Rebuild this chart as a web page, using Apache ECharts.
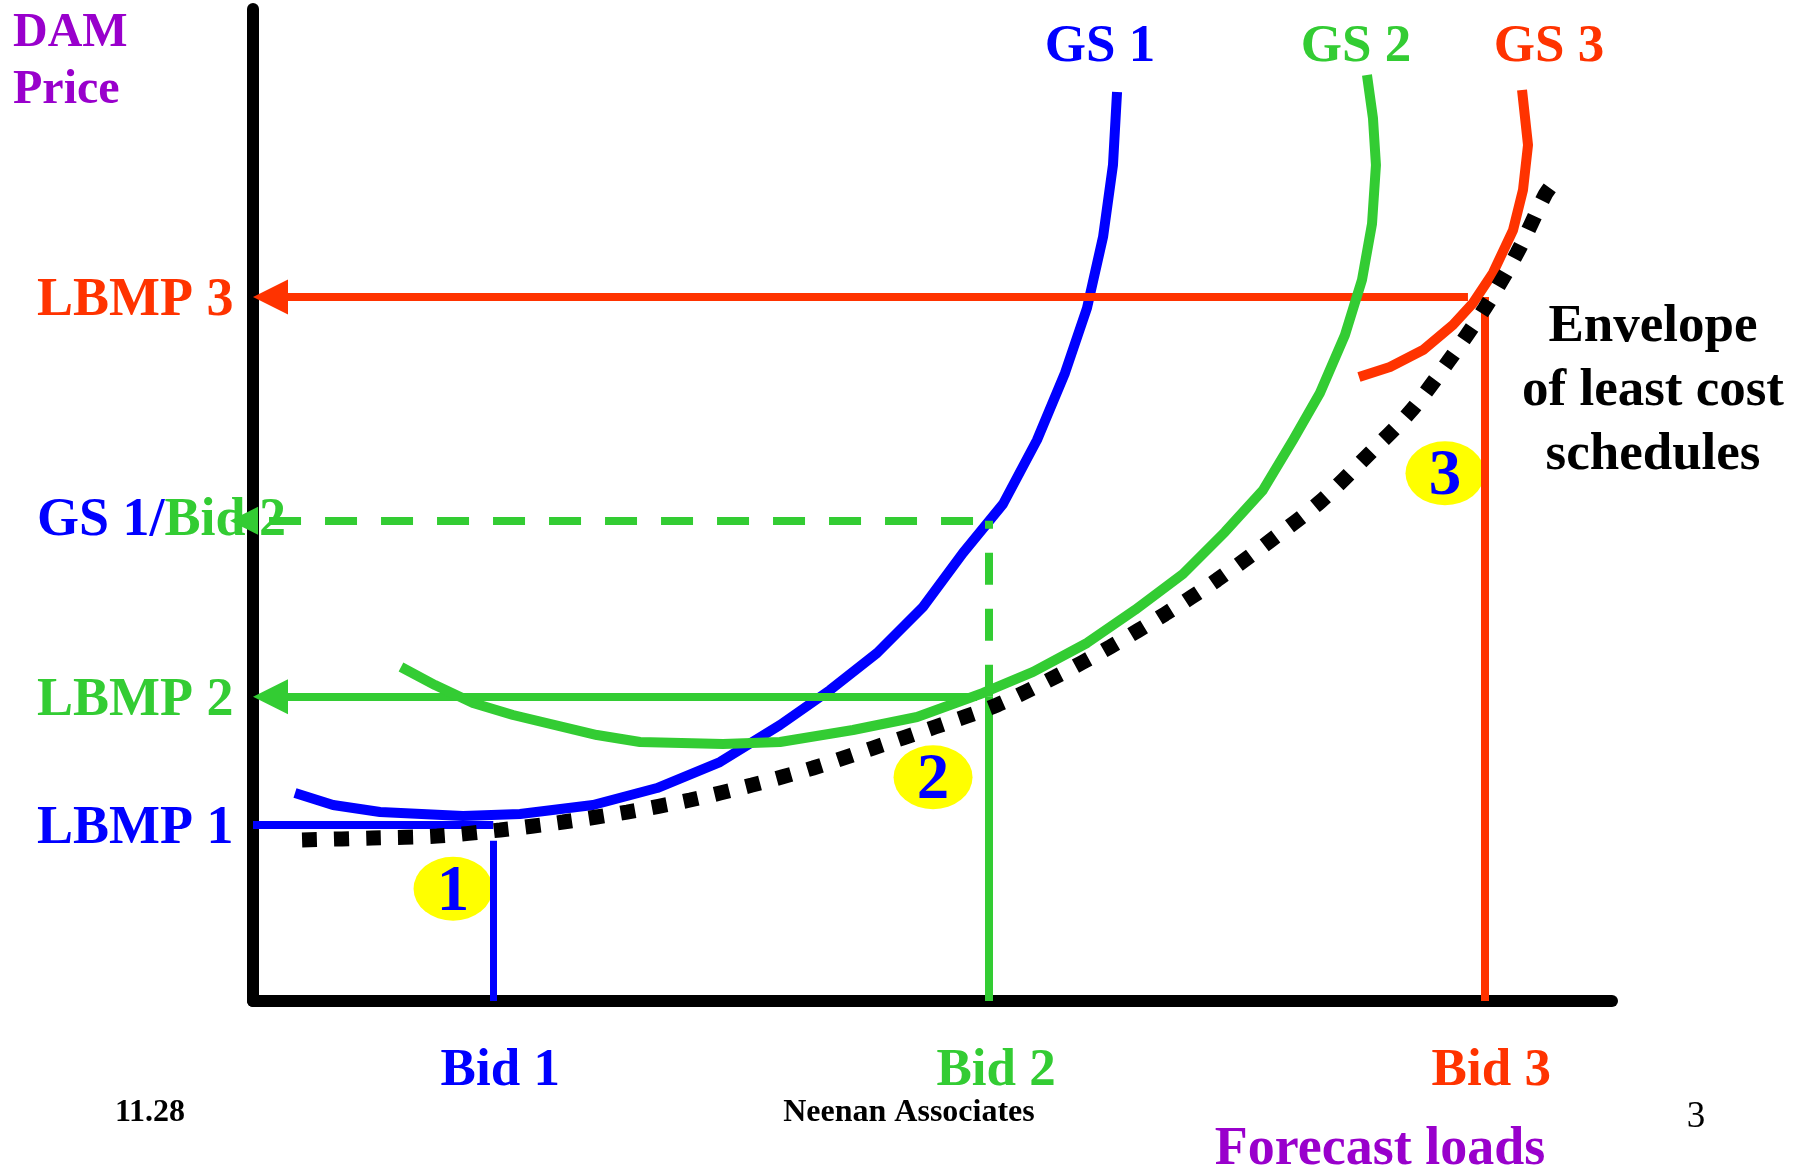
<!DOCTYPE html>
<html>
<head>
<meta charset="utf-8">
<title>DAM price and forecast loads</title>
<script src="https://cdn.jsdelivr.net/npm/echarts@6/dist/echarts.min.js"></script>
<style>
  html, body { margin: 0; padding: 0; background: #ffffff; }
  #chart { width: 1807px; height: 1170px; }
</style>
</head>
<body>
<div id="chart"></div>
<script>
// Generation schedules: [forecast load, DAM price] on a 0..100 scale
const gs1Schedule = [[3.09,20.97],[5.89,19.76],[9.35,19.05],[15.45,18.65],[19.65,18.85],[25.02,19.76],[29.73,21.47],[34.36,24.09],[38.78,27.82],[42.46,31.35],[45.92,35.08],[49.30,39.72],[52.24,45.16],[55.19,50.10],[57.69,56.55],[59.75,63.31],[61.37,69.86],[62.55,77.02],[63.28,84.27],[63.58,91.63]];
const gs2Schedule = [[10.89,33.67],[13.39,31.85],[16.19,30.04],[19.13,28.83],[25.31,26.81],[28.48,26.11],[34.58,25.91],[38.78,26.11],[44.15,27.32],[48.86,28.63],[53.72,31.05],[57.40,33.17],[61.37,36.09],[64.90,39.42],[68.43,43.04],[71.52,47.28],[74.32,51.51],[76.53,56.55],[78.51,61.29],[80.35,67.14],[81.60,72.68],[82.34,78.33],[82.63,84.27],[82.41,89.01],[81.97,93.35]];
const gs3Schedule = [[81.38,62.90],[83.66,63.91],[86.09,65.62],[88.30,68.15],[89.77,70.36],[91.24,73.39],[92.72,77.72],[93.45,81.75],[93.82,86.29],[93.38,91.83]];
// Envelope of least cost schedules
const envelope = [[3.61,16.23],[8.76,16.43],[13.54,16.63],[18.18,17.24],[22.81,18.04],[27.52,19.05],[32.16,20.26],[36.72,21.77],[41.21,23.49],[45.62,25.50],[50.18,27.62],[54.75,29.84],[59.01,32.66],[63.06,35.69],[67.11,39.01],[70.93,42.44],[74.83,46.37],[78.51,50.30],[81.83,54.74],[85.14,59.38],[87.93,64.42],[90.65,69.86],[93.01,75.40],[95.07,81.25],[95.58,82.26]];

// Bids on the load axis
const bidLoads = [17.68, 54.16, 90.6];
const bidLabels = ['Bid 1', 'Bid 2', 'Bid 3'];
// Price levels on the price axis: LBMP 1, LBMP 2, GS 1/Bid 2, LBMP 3
const priceLevels = [17.74, 30.67, 48.42, 70.97];
const priceLabels = ['LBMP 1', 'LBMP 2', 'GS 1/Bid 2', 'LBMP 3'];
// Load where each price line leaves its schedule (LBMP 1, LBMP 2, GS 1/Bid 2, LBMP 3)
const priceLineStarts = [17.68, 53.27, 54.16, 89.40];
// Where each price arrow points on the load axis
const priceArrowTips = [0, 0, -1.69, 0];
// Top of the Bid 1 drop line
const bid1Top = 16.16;

// Numbered clearing points
const clearingPoints = [[14.72, 11.32], [50.04, 22.56], [87.71, 53.20]];
const clearingLabels = ['1', '2', '3'];

const BLUE = '#0000ff', GREEN = '#33cc33', RED = '#ff3300', PURPLE = '#9900cc', YELLOW = '#ffff00';
const FONT = '"Liberation Serif", "Times New Roman", Times, serif';

const GRID = { left: 253, right: 195, top: 9, bottom: 169 };
const X_MIN = 0, X_MAX = 100, Y_MIN = 0, Y_MAX = 100;
const pxPerX = (1807 - GRID.left - GRID.right) / (X_MAX - X_MIN);

// Arrowheads are centred on the line end, so pull the end back by half an arrow
const ARROW = [34, 35];
const ARROW_SMALL = [33, 28];
function arrowEnd(tip, size) { return tip + (size[1] / 2) / pxPerX; }

const levelColors = [BLUE, GREEN, GREEN, RED];
const bidColors = [BLUE, GREEN, RED];

function guide(color, width, extra) {
  return Object.assign({ color: color, width: width, opacity: 1, cap: 'butt' }, extra || {});
}

const guideLines = [
  // LBMP 1 (no arrow)
  { coords: [[0, priceLevels[0]], [priceLineStarts[0], priceLevels[0]]], lineStyle: guide(BLUE, 8) },
  // Bid 1 drop line
  { coords: [[bidLoads[0], 0], [bidLoads[0], bid1Top]], lineStyle: guide(BLUE, 7) },
  // Bid 2 drop line
  { coords: [[bidLoads[1], 0], [bidLoads[1], priceLevels[1]]], lineStyle: guide(GREEN, 8) },
  // Bid 2 dashed extension up to GS 1
  { coords: [[bidLoads[1], priceLevels[1]], [bidLoads[1], priceLevels[2]]], lineStyle: guide(GREEN, 8, { type: [32, 24] }) },
  // Bid 3 drop line
  { coords: [[bidLoads[2], 0], [bidLoads[2], priceLevels[3]]], lineStyle: guide(RED, 8) },
  // LBMP 2 arrow
  { coords: [[priceLineStarts[1], priceLevels[1]], [arrowEnd(priceArrowTips[1], ARROW), priceLevels[1]]],
    symbol: ['none', 'triangle'], symbolSize: ARROW, lineStyle: guide(GREEN, 8) },
  // GS 1/Bid 2 dashed arrow
  { coords: [[priceLineStarts[2], priceLevels[2]], [arrowEnd(priceArrowTips[2], ARROW_SMALL), priceLevels[2]]],
    symbol: ['none', 'triangle'], symbolSize: ARROW_SMALL, lineStyle: guide(GREEN, 8, { type: [32, 24], dashOffset: 40 }) },
  // LBMP 3 arrow
  { coords: [[priceLineStarts[3], priceLevels[3]], [arrowEnd(priceArrowTips[3], ARROW), priceLevels[3]]],
    symbol: ['none', 'triangle'], symbolSize: ARROW, lineStyle: guide(RED, 8) }
];

function richFor(color, size, padding) {
  return { color: color, fontFamily: FONT, fontWeight: 'bold', fontSize: size, padding: padding };
}

const chart = echarts.init(document.getElementById('chart'), null, { renderer: 'canvas' });

chart.setOption({
  backgroundColor: '#ffffff',
  animation: false,
  grid: Object.assign({ outerBoundsMode: 'none', containLabel: false }, GRID),
  xAxis: {
    type: 'value', min: X_MIN, max: X_MAX,
    axisLine: { show: true, onZero: false, lineStyle: { color: '#000000', width: 12 } },
    axisTick: { show: false },
    splitLine: { show: false },
    axisLabel: {
      show: true,
      customValues: bidLoads,
      margin: 44,
      formatter: function (v) {
        const i = bidLoads.findIndex(function (b) { return Math.abs(b - v) < 1e-6; });
        return i < 0 ? '' : '{c' + i + '|' + bidLabels[i] + '}';
      },
      rich: {
        c0: richFor(bidColors[0], 53, [0, 0, 0, 14]),
        c1: richFor(bidColors[1], 53, [0, 0, 0, 14]),
        c2: richFor(bidColors[2], 53, [0, 0, 0, 14])
      }
    }
  },
  yAxis: {
    type: 'value', min: Y_MIN, max: Y_MAX,
    axisLine: { show: true, onZero: false, lineStyle: { color: '#000000', width: 12 } },
    axisTick: { show: false },
    splitLine: { show: false },
    axisLabel: {
      show: true,
      customValues: priceLevels,
      margin: 216,
      align: 'left',
      formatter: function (v) {
        const i = priceLevels.findIndex(function (p) { return Math.abs(p - v) < 1e-6; });
        if (i < 0) return '';
        if (priceLabels[i] === 'GS 1/Bid 2') return '{b|GS 1/}{g|Bid 2}';
        return '{l' + i + '|' + priceLabels[i] + '}';
      },
      rich: {
        l0: richFor(levelColors[0], 54, [8, 0, 0, 0]),
        l1: richFor(levelColors[1], 54, [8, 0, 0, 0]),
        l3: richFor(levelColors[3], 54, [8, 0, 0, 0]),
        b: richFor(BLUE, 54, [0, 0, 0, 0]),
        g: richFor(GREEN, 54, [0, 0, 0, 0])
      }
    }
  },
  series: [
    {
      name: 'Clearing points', type: 'scatter', z: 1,
      data: clearingPoints.map(function (p, i) { return { value: p, name: clearingLabels[i] }; }),
      symbol: 'path://M0,50 A50,50 0 1,1 100,50 A50,50 0 1,1 0,50 Z',
      symbolSize: [79, 64],
      itemStyle: { color: YELLOW, opacity: 1 },
      label: {
        show: true, position: 'inside', offset: [0, 4],
        formatter: function (p) { return p.name; },
        color: BLUE, fontFamily: FONT, fontWeight: 'bold', fontSize: 65
      },
      silent: true
    },
    {
      name: 'GS 1', type: 'line', z: 2, data: gs1Schedule,
      showSymbol: false, smooth: false,
      lineStyle: { color: BLUE, width: 10, join: 'round' }
    },
    {
      name: 'Guides', type: 'lines', coordinateSystem: 'cartesian2d', z: 3,
      clip: false, silent: true,
      symbol: ['none', 'none'],
      lineStyle: { opacity: 1 },
      data: guideLines
    },
    {
      name: 'GS 2', type: 'line', z: 4, data: gs2Schedule,
      showSymbol: false, smooth: false,
      lineStyle: { color: GREEN, width: 10, join: 'round' }
    },
    {
      name: 'GS 3', type: 'line', z: 5, data: gs3Schedule,
      showSymbol: false, smooth: false,
      lineStyle: { color: RED, width: 10, join: 'round' }
    },
    {
      name: 'Envelope of least cost schedules', type: 'line', z: 6, data: envelope,
      showSymbol: false, smooth: 0.3,
      lineStyle: { color: '#000000', width: 15, type: [15, 17], cap: 'butt' }
    }
  ],
  graphic: [
    { type: 'text', x: 13, y: 62, style: { text: 'DAM\nPrice', font: 'bold 48px ' + FONT, fill: PURPLE, lineHeight: 57, align: 'left', textAlign: 'left', verticalAlign: 'middle', textVerticalAlign: 'middle' } },
    { type: 'text', x: 1100, y: 47, style: { text: 'GS 1', font: 'bold 53px ' + FONT, fill: BLUE, align: 'center', textAlign: 'center', verticalAlign: 'middle', textVerticalAlign: 'middle' } },
    { type: 'text', x: 1356, y: 47, style: { text: 'GS 2', font: 'bold 53px ' + FONT, fill: GREEN, align: 'center', textAlign: 'center', verticalAlign: 'middle', textVerticalAlign: 'middle' } },
    { type: 'text', x: 1549, y: 47, style: { text: 'GS 3', font: 'bold 53px ' + FONT, fill: RED, align: 'center', textAlign: 'center', verticalAlign: 'middle', textVerticalAlign: 'middle' } },
    { type: 'text', x: 1653, y: 391, style: { text: 'Envelope\nof least cost\nschedules', font: 'bold 53px ' + FONT, fill: '#000000', lineHeight: 64, align: 'center', textAlign: 'center', verticalAlign: 'middle', textVerticalAlign: 'middle' } },
    { type: 'text', x: 150, y: 1113, style: { text: '11.28', font: 'bold 32px ' + FONT, fill: '#000000', align: 'center', textAlign: 'center', verticalAlign: 'middle', textVerticalAlign: 'middle' } },
    { type: 'text', x: 909, y: 1113, style: { text: 'Neenan Associates', font: 'bold 32px ' + FONT, fill: '#000000', align: 'center', textAlign: 'center', verticalAlign: 'middle', textVerticalAlign: 'middle' } },
    { type: 'text', x: 1696, y: 1117, style: { text: '3', font: '37px ' + FONT, fill: '#000000', align: 'center', textAlign: 'center', verticalAlign: 'middle', textVerticalAlign: 'middle' } },
    { type: 'text', x: 1380, y: 1150, style: { text: 'Forecast loads', font: 'bold 54px ' + FONT, fill: PURPLE, align: 'center', textAlign: 'center', verticalAlign: 'middle', textVerticalAlign: 'middle' } }
  ]
});
</script>
</body>
</html>
